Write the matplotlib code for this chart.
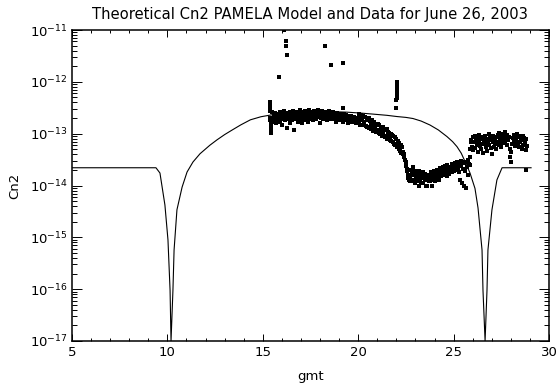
import numpy as np
import matplotlib
matplotlib.use('Agg')
import matplotlib.pyplot as plt

# theoretical PAMELA model (gmt hours, Cn2)
model_gmt = [5.00, 9.40, 9.61, 9.87, 10.03, 10.14, 10.19, 10.29, 10.35, 10.50,
             10.77, 11.03, 11.34, 11.71, 12.23, 12.60, 13.00, 13.40, 13.85, 14.35,
             14.90, 15.50, 16.20, 17.00, 17.84, 18.68, 19.40, 20.10, 20.80, 21.50,
             22.03, 22.50, 22.87, 23.30, 23.76, 24.20, 24.65, 24.95, 25.18, 25.40,
             25.60, 25.86, 26.12, 26.28, 26.49, 26.54, 26.65, 26.75, 26.80, 27.01,
             27.27, 27.54, 29.06]
model_cn2 = [2.2e-14, 2.2e-14, 1.74e-14, 4.2e-15, 8.9e-16, 9.5e-17, 1.0e-17, 9.5e-17, 5.7e-16, 3.4e-15,
             9.3e-15, 1.82e-14, 2.84e-14, 4.1e-14, 6.0e-14, 7.6e-14, 9.6e-14, 1.18e-13, 1.48e-13, 1.85e-13,
             2.12e-13, 2.32e-13, 2.5e-13, 2.6e-13, 2.65e-13, 2.65e-13, 2.6e-13, 2.5e-13, 2.38e-13, 2.26e-13,
             2.14e-13, 2.06e-13, 1.96e-13, 1.75e-13, 1.47e-13, 1.18e-13, 8.8e-14, 7.0e-14, 5.6e-14, 4.2e-14,
             2.9e-14, 1.74e-14, 8.8e-15, 3.7e-15, 5.7e-16, 9.5e-17, 1.0e-17, 9.5e-17, 5.7e-16, 3.4e-15,
             1.28e-14, 2.2e-14, 2.2e-14]

# measured data, values in units of 1e-13
start_gmt = [15.38, 15.38, 15.38, 15.38, 15.40, 15.40, 15.41, 15.42, 15.42, 15.43, 15.44]
start_val = [4.1, 3.6, 3.1, 2.7, 2.0, 1.8, 1.6, 1.45, 1.3, 1.15, 1.03]

day_gmt = [15.50, 15.53, 15.57, 15.60, 15.64, 15.67, 15.71, 15.74, 15.78, 15.81,
           15.85, 15.88, 15.92, 15.95, 15.99, 16.02, 16.06, 16.09, 16.13, 16.16,
           16.20, 16.23, 16.27, 16.30, 16.34, 16.37, 16.41, 16.44, 16.48, 16.51,
           16.55, 16.58, 16.62, 16.65, 16.69, 16.72, 16.76, 16.79, 16.83, 16.86,
           16.90, 16.93, 16.97, 17.00, 17.04, 17.07, 17.11, 17.14, 17.18, 17.21,
           17.25, 17.28, 17.32, 17.35, 17.39, 17.42, 17.46, 17.49, 17.53, 17.56,
           17.60, 17.63, 17.67, 17.70, 17.74, 17.77, 17.81, 17.84, 17.88, 17.91,
           17.95, 17.98, 18.02, 18.05, 18.09, 18.12, 18.16, 18.19, 18.23, 18.26,
           18.30, 18.33, 18.37, 18.40, 18.44, 18.47, 18.51, 18.54, 18.58, 18.61,
           18.65, 18.68, 18.72, 18.75, 18.79, 18.82, 18.86, 18.89, 18.93, 18.96,
           19.00, 19.03, 19.07, 19.10, 19.14, 19.17, 19.21, 19.24, 19.28, 19.31,
           19.35, 19.38, 19.42, 19.45, 19.49, 19.52, 19.56, 19.59, 19.63, 19.66,
           19.70, 19.73, 19.77, 19.80, 19.84, 19.87, 19.91, 19.94, 19.98]
day_val = [2.6, 1.9, 2.3, 1.7, 2.5, 2.0, 1.6, 2.2, 1.8, 2.4,
           2.1, 1.7, 2.6, 2.0, 1.5, 2.3, 1.9, 2.7, 2.2, 1.8,
           2.4, 2.0, 1.3, 2.5, 1.9, 2.2, 1.6, 2.6, 2.1, 1.8,
           2.3, 2.7, 1.2, 2.0, 2.4, 1.9, 2.6, 2.2, 1.7, 2.5,
           2.0, 2.8, 1.9, 2.3, 1.6, 2.6, 2.1, 2.4, 1.8, 2.7,
           2.2, 2.0, 2.5, 1.7, 2.3, 2.8, 2.1, 1.9, 2.6, 2.2,
           2.4, 1.8, 2.7, 2.0, 2.5, 2.2, 1.9, 2.6, 2.3, 2.8,
           2.1, 1.6, 2.4, 2.0, 2.7, 2.2, 1.9, 2.5, 2.3, 2.0,
           2.6, 2.2, 1.8, 2.4, 2.1, 2.7, 2.0, 2.3, 1.9, 2.5,
           2.2, 2.6, 1.9, 2.4, 2.0, 2.3, 1.7, 2.5, 2.1, 2.2,
           1.8, 2.4, 2.0, 2.3, 1.9, 2.2, 1.7, 2.4, 2.0, 2.1,
           1.8, 2.3, 1.9, 2.2, 1.6, 2.1, 2.0, 1.8, 2.2, 1.7,
           2.0, 1.9, 2.1, 1.7, 2.0, 1.8, 1.6, 2.0, 1.9]

decay_gmt = [20.02, 20.05, 20.09, 20.12, 20.16, 20.19, 20.23, 20.26, 20.30, 20.33,
             20.37, 20.40, 20.44, 20.47, 20.51, 20.54, 20.58, 20.61, 20.65, 20.68,
             20.72, 20.75, 20.79, 20.82, 20.86, 20.89, 20.93, 20.96, 21.00, 21.03,
             21.07, 21.10, 21.14, 21.17, 21.21, 21.24, 21.28, 21.31, 21.35, 21.38,
             21.42, 21.45, 21.49, 21.52, 21.56, 21.59, 21.63, 21.66, 21.70, 21.73,
             21.77, 21.80, 21.84, 21.87, 21.91, 21.94, 21.98, 22.01, 22.05, 22.08,
             22.12, 22.15, 22.19, 22.22, 22.26, 22.29, 22.33,
             22.36, 22.39, 22.42, 22.45, 22.48, 22.51, 22.54, 22.57, 22.60, 22.63,
             22.66, 22.69]
decay_val = [2.4, 1.6, 2.2, 1.5, 2.3, 1.8, 1.45, 2.2, 1.7, 1.5,
             2.1, 1.4, 1.9, 1.35, 1.8, 2.0, 1.3, 1.75, 1.5, 1.25,
             1.8, 1.4, 1.15, 1.65, 1.3, 1.55, 1.1, 1.5, 1.2, 1.55,
             1.05, 1.45, 1.0, 1.35, 1.15, 0.9, 1.35, 1.0, 1.25, 0.85,
             1.2, 0.9, 1.25, 0.8, 1.1, 0.85, 1.05, 0.75, 1.0, 0.72,
             0.95, 0.68, 0.9, 0.62, 0.85, 0.6, 0.8, 0.62, 0.55, 0.72,
             0.5, 0.65, 0.46, 0.6, 0.42, 0.55, 0.4,
             0.45, 0.40, 0.36, 0.31, 0.28, 0.24, 0.21, 0.19, 0.16, 0.14,
             0.13, 0.12]

low_gmt = [22.72, 22.75, 22.79, 22.82, 22.86, 22.89, 22.93, 22.96, 23.00, 23.03,
           23.07, 23.10, 23.14, 23.17, 23.21, 23.24, 23.28, 23.31, 23.35, 23.38,
           23.42, 23.45, 23.49, 23.52, 23.56, 23.59, 23.63, 23.66, 23.70, 23.73,
           23.77, 23.80, 23.84, 23.87, 23.91, 23.94, 23.98, 24.01, 24.05, 24.08,
           24.12, 24.15, 24.19, 24.22, 24.26, 24.29, 24.33, 24.36, 24.40, 24.43,
           24.47, 24.50, 24.54, 24.57, 24.61, 24.64, 24.68, 24.71, 24.75, 24.78,
           24.82, 24.85, 24.89, 24.92, 24.96, 24.99, 25.03, 25.06, 25.10, 25.13,
           25.17, 25.20, 25.24, 25.27, 25.31, 25.34, 25.38, 25.41, 25.45, 25.48,
           25.52, 25.55, 25.59, 25.62, 25.66, 25.69, 25.73, 25.76, 25.80]
low_val = [0.14, 0.20, 0.12, 0.17, 0.23, 0.13, 0.16, 0.11, 0.19, 0.14,
           0.12, 0.18, 0.15, 0.10, 0.19, 0.13, 0.16, 0.11, 0.14, 0.18,
           0.11, 0.15, 0.13, 0.17, 0.10, 0.14, 0.10, 0.16, 0.12, 0.15,
           0.12, 0.18, 0.14, 0.10, 0.16, 0.13, 0.19, 0.15, 0.12, 0.17,
           0.14, 0.20, 0.16, 0.13, 0.18, 0.22, 0.15, 0.19, 0.17, 0.23,
           0.16, 0.20, 0.24, 0.17, 0.21, 0.15, 0.25, 0.19, 0.22, 0.17,
           0.23, 0.20, 0.26, 0.18, 0.22, 0.25, 0.19, 0.27, 0.21, 0.24,
           0.20, 0.28, 0.22, 0.18, 0.26, 0.13, 0.24, 0.30, 0.11, 0.21,
           0.27, 0.10, 0.19, 0.29, 0.09, 0.23, 0.31, 0.16, 0.26]

night_gmt = [25.84, 25.86, 25.88, 25.90,
             25.93, 25.97, 26.00, 26.04, 26.07, 26.11, 26.14, 26.18, 26.21, 26.25,
             26.28, 26.32, 26.35, 26.39, 26.42, 26.46, 26.49, 26.53, 26.56, 26.60,
             26.63, 26.67, 26.70, 26.74, 26.77, 26.81, 26.84, 26.88, 26.91, 26.95,
             26.98, 27.02, 27.05, 27.09, 27.12, 27.16, 27.19, 27.23, 27.26, 27.30,
             27.33, 27.37, 27.40, 27.44, 27.47, 27.51, 27.54, 27.58, 27.61, 27.65,
             27.68, 27.72, 27.75, 27.79, 27.82, 27.86, 27.89, 27.93, 27.96, 28.00,
             28.03, 28.07, 28.10, 28.14, 28.17, 28.21, 28.24, 28.28, 28.31, 28.35,
             28.38, 28.42, 28.45, 28.49, 28.52, 28.56, 28.59, 28.63, 28.66, 28.70,
             28.73, 28.77, 28.80, 28.84]
night_val = [0.25, 0.35, 0.5, 0.7,
             0.75, 0.55, 0.85, 0.48, 0.68, 0.9, 0.52, 0.72, 0.6, 0.82,
             0.45, 0.7, 0.95, 0.58, 0.78, 0.5, 0.88, 0.62, 0.42, 0.74,
             0.66, 0.92, 0.55, 0.8, 0.47, 0.7, 0.98, 0.6, 0.84, 0.52,
             0.76, 0.4, 0.68, 0.9, 0.56, 0.8, 0.64, 0.5, 0.86, 0.7,
             0.95, 0.6, 1.05, 0.72, 0.85, 0.55, 1.0, 0.78, 0.65, 0.92,
             0.7, 1.08, 0.82, 0.6, 0.95, 0.75, 0.88, 0.5, 0.35, 0.28,
             0.45, 0.62, 0.82, 0.7, 0.95, 0.58, 0.88, 0.76, 1.0, 0.64,
             0.85, 0.55, 0.92, 0.7, 0.8, 0.5, 0.74, 0.9, 0.6, 0.82,
             0.68, 0.48, 0.78, 0.58]

# isolated spikes
spike_gmt = [16.12, 16.24, 16.21, 16.27, 15.85, 18.26, 18.56, 19.20, 19.19, 28.79,
             22.02, 22.02, 22.02, 22.02, 22.02, 22.02, 22.00, 22.00]
spike_val = [100.0, 62.0, 50.0, 33.0, 12.5, 50.0, 21.0, 23.0, 3.1, 0.2,
             10.0, 8.7, 7.5, 6.5, 5.6, 4.8, 4.5, 3.1]

data_gmt = start_gmt + day_gmt + decay_gmt + low_gmt + night_gmt + spike_gmt
data_val = start_val + day_val + decay_val + low_val + night_val + spike_val
data_cn2 = np.array(data_val) * 1e-13

fig = plt.figure(figsize=(5.56, 3.91), dpi=100)
ax = fig.add_axes([72 / 556, 1 - 341 / 391, 477 / 556, 311 / 391])

ax.plot(model_gmt, model_cn2, color='black', linewidth=0.8)
ax.plot(data_gmt, data_cn2, 's', color='black', markersize=2.3, markeredgewidth=0)

ax.set_yscale('log')
ax.set_xlim(5, 30)
ax.set_ylim(1e-17, 1e-11)
ax.set_xticks([5, 10, 15, 20, 25, 30])
ax.set_xticks(np.arange(5, 31, 1), minor=True)
ax.set_yticks([1e-17, 1e-16, 1e-15, 1e-14, 1e-13, 1e-12, 1e-11])
ax.set_yticklabels([r'$10^{-17}$', r'$10^{-16}$', r'$10^{-15}$', r'$10^{-14}$',
                    r'$10^{-13}$', r'$10^{-12}$', r'$10^{-11}$'])

ax.tick_params(which='both', direction='in', top=True, right=True, width=0.7, labelsize=9.5)
ax.tick_params(axis='x', which='major', length=5, pad=3.5)
ax.tick_params(axis='x', which='minor', length=2.5)
ax.tick_params(axis='y', which='major', length=7, pad=3)
ax.tick_params(axis='y', which='minor', length=3.5)
for s in ax.spines.values():
    s.set_linewidth(1.1)

ax.set_title('Theoretical Cn2 PAMELA Model and Data for June 26, 2003', fontsize=10.6, pad=8)
ax.set_xlabel('gmt', fontsize=9.5, labelpad=8)
ax.set_ylabel('Cn2', fontsize=9.5, labelpad=6)

fig.savefig('out.png', dpi=100)
